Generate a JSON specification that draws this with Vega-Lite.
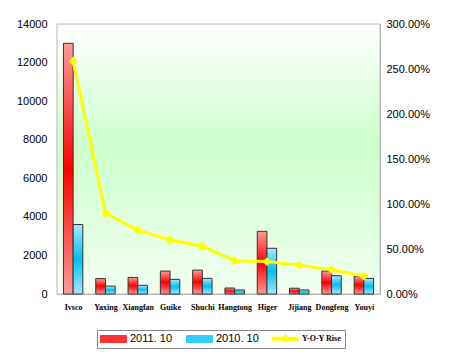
{
  "$schema": "https://vega.github.io/schema/vega-lite/v6.json",
  "width": 323,
  "height": 270,
  "autosize": {"type": "none"},
  "padding": {"left": 57, "top": 24, "right": 70, "bottom": 61},
  "background": "white",
  "config": {"view": {"stroke": null}, "font": "Liberation Sans"},
  "datasets": {
    "bars": [
      {"brand": "Ivsco", "series": "2011. 10", "value": 13000},
      {"brand": "Ivsco", "series": "2010. 10", "value": 3600},
      {"brand": "Yaxing", "series": "2011. 10", "value": 800},
      {"brand": "Yaxing", "series": "2010. 10", "value": 410},
      {"brand": "Xiangfan", "series": "2011. 10", "value": 860},
      {"brand": "Xiangfan", "series": "2010. 10", "value": 450},
      {"brand": "Guike", "series": "2011. 10", "value": 1190},
      {"brand": "Guike", "series": "2010. 10", "value": 760},
      {"brand": "Shuchi", "series": "2011. 10", "value": 1240},
      {"brand": "Shuchi", "series": "2010. 10", "value": 810},
      {"brand": "Hangtong", "series": "2011. 10", "value": 310},
      {"brand": "Hangtong", "series": "2010. 10", "value": 210},
      {"brand": "Higer", "series": "2011. 10", "value": 3250},
      {"brand": "Higer", "series": "2010. 10", "value": 2370},
      {"brand": "Jijiang", "series": "2011. 10", "value": 300},
      {"brand": "Jijiang", "series": "2010. 10", "value": 210},
      {"brand": "Dongfeng", "series": "2011. 10", "value": 1190},
      {"brand": "Dongfeng", "series": "2010. 10", "value": 950},
      {"brand": "Youyi", "series": "2011. 10", "value": 930},
      {"brand": "Youyi", "series": "2010. 10", "value": 810}
    ],
    "yoy": [
      {"brand": "Ivsco", "series": "Y-O-Y Rise", "rise": 2.59},
      {"brand": "Yaxing", "series": "Y-O-Y Rise", "rise": 0.9},
      {"brand": "Xiangfan", "series": "Y-O-Y Rise", "rise": 0.71},
      {"brand": "Guike", "series": "Y-O-Y Rise", "rise": 0.6},
      {"brand": "Shuchi", "series": "Y-O-Y Rise", "rise": 0.53},
      {"brand": "Hangtong", "series": "Y-O-Y Rise", "rise": 0.37},
      {"brand": "Higer", "series": "Y-O-Y Rise", "rise": 0.36},
      {"brand": "Jijiang", "series": "Y-O-Y Rise", "rise": 0.32},
      {"brand": "Dongfeng", "series": "Y-O-Y Rise", "rise": 0.27},
      {"brand": "Youyi", "series": "Y-O-Y Rise", "rise": 0.2}
    ]
  },
  "layer": [
    {
      "data": {"values": [{}]},
      "mark": {
        "type": "rect",
        "stroke": "#b8b8b8",
        "strokeWidth": 1,
        "color": {
          "gradient": "linear", "x1": 0, "y1": 0, "x2": 0, "y2": 1,
          "stops": [
            {"offset": 0, "color": "#ffffff"},
            {"offset": 0.45, "color": "#ccffcc"},
            {"offset": 1, "color": "#f2fff2"}
          ]
        }
      },
      "encoding": {}
    },
    {
      "data": {"name": "bars"},
      "mark": {"type": "bar", "stroke": "#333333", "strokeWidth": 1},
      "encoding": {
        "x": {
          "field": "brand", "type": "nominal", "sort": null,
          "scale": {"paddingInner": 0.4, "paddingOuter": 0.2},
          "axis": {
            "title": null, "labelAngle": 0, "labelFont": "Liberation Serif", "labelFontWeight": "bold",
            "labelFontSize": 8, "labelColor": "#000000", "labelPadding": 12,
            "domainColor": "#b8b8b8", "tickColor": "#b8b8b8", "tickBand": "extent", "tickSize": -3
          }
        },
        "xOffset": {"field": "series", "type": "nominal", "sort": ["2011. 10", "2010. 10"]},
        "y": {
          "field": "value", "type": "quantitative",
          "scale": {"domain": [0, 14000], "nice": false},
          "axis": {
            "title": null, "orient": "left", "values": [0, 2000, 4000, 6000, 8000, 10000, 12000, 14000],
            "format": "d",
            "grid": false, "domain": false, "tickColor": "#b8b8b8", "tickSize": -3,
            "labelFontSize": 11, "labelColor": "#000000", "labelPadding": 13
          }
        },
        "fill": {
          "condition": {
            "test": "datum.series === '2011. 10'",
            "value": {
              "gradient": "linear", "x1": 0, "y1": 0, "x2": 0, "y2": 1,
              "stops": [
                {"offset": 0, "color": "#ff9a9a"},
                {"offset": 0.5, "color": "#ff0000"},
                {"offset": 1, "color": "#ff9a9a"}
              ]
            }
          },
          "value": {
            "gradient": "linear", "x1": 0, "y1": 0, "x2": 0, "y2": 1,
            "stops": [
              {"offset": 0, "color": "#a8e8ff"},
              {"offset": 0.5, "color": "#00c0f0"},
              {"offset": 1, "color": "#a8e8ff"}
            ]
          }
        }
      }
    },
    {
      "data": {"name": "yoy"},
      "mark": {
        "type": "line", "strokeWidth": 3,
        "point": {"shape": "diamond", "size": 80, "filled": true}
      },
      "encoding": {
        "x": {"field": "brand", "type": "nominal", "sort": null},
        "y": {
          "field": "rise", "type": "quantitative",
          "scale": {"domain": [0, 3], "nice": false},
          "axis": {
            "title": null, "orient": "right", "values": [0, 0.5, 1, 1.5, 2, 2.5, 3],
            "format": ".2%", "grid": false, "domainColor": "#b8b8b8", "tickColor": "#b8b8b8",
            "tickSize": -3, "labelFontSize": 11, "labelColor": "#000000", "labelPadding": 9
          }
        },
        "color": {
          "field": "series", "type": "nominal",
          "scale": {"domain": ["2011. 10", "2010. 10", "Y-O-Y Rise"], "range": ["#ff3333", "#33ccff", "#ffff00"]},
          "legend": {
            "title": null, "orient": "none", "legendX": 40, "legendY": 306,
            "direction": "horizontal", "strokeColor": "#888888", "fillColor": "#ffffff",
            "padding": 3, "columnPadding": 11, "labelOffset": 19, "symbolSize": 100,
            "labelFontSize": 11, "labelColor": "#000000",
            "encode": {
              "legend": {
                "update": {
                  "stroke": {"value": "#888888"},
                  "strokeWidth": {"value": 1},
                  "fill": {"value": "#ffffff"}
                }
              },
              "symbols": {
                "update": {
                  "shape": {"signal": "datum.value === 'Y-O-Y Rise' ? 'M-1,-0.3H4.2V0.3H-1Z M1.6,-0.8L2.4,0L1.6,0.8L0.8,0Z' : 'M-1,-0.7H4.2V0.7H-1Z'"},
                  "fill": {"signal": "datum.value === '2011. 10' ? '#ff3333' : datum.value === '2010. 10' ? '#33ccff' : '#ffff00'"},
                  "stroke": {"signal": "datum.value === 'Y-O-Y Rise' ? '#ffff00' : '#333333'"},
                  "strokeWidth": {"value": 1},
                  "opacity": {"value": 1},
                  "fillOpacity": {"value": 1},
                  "strokeDash": {"value": []}
                }
              },
              "labels": {
                "update": {
                  "font": {"signal": "datum.value === 'Y-O-Y Rise' ? 'Liberation Serif' : 'Liberation Sans'"},
                  "fontWeight": {"signal": "datum.value === 'Y-O-Y Rise' ? 'bold' : 'normal'"},
                  "fontSize": {"signal": "datum.value === 'Y-O-Y Rise' ? 8 : 11"}
                }
              }
            }
          }
        }
      }
    }
  ],
  "resolve": {"scale": {"y": "independent"}}
}
